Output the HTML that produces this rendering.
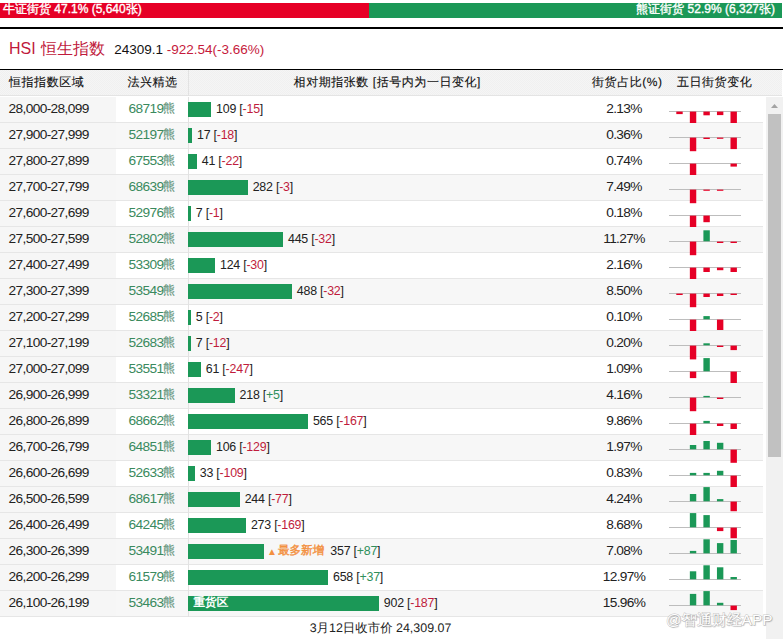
<!DOCTYPE html>
<html lang="zh"><head><meta charset="utf-8"><title>HSI</title>
<style>
html,body{margin:0;padding:0;background:#fff}
body{width:784px;height:639px;position:relative;overflow:hidden;font-family:"Liberation Sans",sans-serif;color:#222}
.abs{position:absolute}
#top{position:absolute;left:0;top:3px;width:782px;height:15px;background:#1b9857;color:#fff;font-size:12px;line-height:13.8px}
#top .bull{position:absolute;left:0;top:0;width:369px;height:15px;background:#e60026}
#top span{-webkit-text-stroke:.35px #fff}
#top .lt{position:absolute;left:3px;top:0;white-space:nowrap}
#top .rt{position:absolute;right:7px;top:0;white-space:nowrap}
#rule{position:absolute;left:0;top:27px;width:783px;height:2px;background:#000}
#title{position:absolute;left:9px;top:38.5px;height:20px;line-height:20px;white-space:nowrap;font-size:13.5px;color:#111}
#title .n{font-size:16px;color:#c01a3c;margin-right:8.8px;word-spacing:1.2px;position:relative;top:.4px}
#title .chg{color:#c61a3c}
#hd{position:absolute;left:0;top:69px;width:782px;height:27px;background:repeating-conic-gradient(#f5f5f5 0 25%,#f0f0f0 0 50%) 0 0/2px 2px;border-top:1px solid #000;box-sizing:border-box;border-bottom:1px solid #e4e4e4;font-size:12px;letter-spacing:.55px;color:#111;text-rendering:geometricPrecision;-webkit-text-stroke:.12px #111}
#hl{position:absolute;left:0;top:69px;width:783px;height:1px;background:#000}
#hd span{position:absolute;top:0;line-height:25px;white-space:nowrap;transform:translateX(-50%)}
#hd .h1{left:9px;transform:none}
.r{position:absolute;left:0;width:763px;height:26px;box-sizing:border-box;border-bottom:1px solid #e6e6e6;font-size:12.5px;line-height:23px}
.r.g{background:#f7f7f7}
.r .c1{position:absolute;left:0;top:0;width:116px;height:25px;background:#f6f6f6}
.r .c1 b{font-weight:normal;position:absolute;left:8.5px;top:-.5px;white-space:nowrap;font-size:13.7px;letter-spacing:-.62px}
.r .c2{position:absolute;left:116px;top:-.5px;width:72px;height:25px;text-align:center;color:#3a8a5e;white-space:nowrap;font-size:13.7px;letter-spacing:-.62px}
.r .c2 i{font-style:normal;color:#64957d;font-size:12px;letter-spacing:0;position:relative;top:-.6px;-webkit-text-stroke:.2px #64957d}
.r .vl{position:absolute;left:188px;top:0;width:1px;height:26px;background:#e2e2e2}
.r .bar{position:absolute;left:188px;top:5px;height:15px;background:#1b9857}
.r .lab{position:absolute;top:.6px;white-space:nowrap;font-size:12.4px;letter-spacing:-.22px}
.r .lab .dn{color:#c01c3c}
.r .lab .up{color:#2f8f5b}
.r .new{color:#f3903f;font-size:11.6px;text-rendering:geometricPrecision;-webkit-text-stroke:.4px #f3903f;margin-right:2.8px;letter-spacing:0;position:relative;top:-.7px}
.r .new u{text-decoration:none;font-size:10px;-webkit-text-stroke:0;position:relative;top:.9px;margin-right:1.1px;margin-left:-2px}
.r .hv{position:absolute;left:193.5px;top:-.4px;color:#fff;font-weight:bold;font-size:11.6px;white-space:nowrap;text-rendering:geometricPrecision}
.r .pc{position:absolute;left:574px;width:100px;top:-.5px;text-align:center;white-space:nowrap;font-size:13.7px;letter-spacing:-.62px}
.r svg{position:absolute;left:669px;top:0;overflow:visible}
#vl{position:absolute;left:188px;top:70px;width:1px;height:26px;background:#e2e2e2}
#foot{position:absolute;left:0;top:618.2px;width:761px;height:21px;line-height:21px;text-align:center;font-size:12.45px;text-rendering:geometricPrecision;color:#222;white-space:nowrap}
#sb{position:absolute;left:766px;top:97px;width:17px;height:542px;background:#f1f1f1}
#sb .th{position:absolute;left:2px;top:17px;width:13px;height:343px;background:#c1c1c1}
#wm{position:absolute;left:666px;top:609.5px;font-size:15.4px;line-height:20px;color:#fff;-webkit-text-stroke:1px rgba(120,120,120,.42);paint-order:stroke fill;text-shadow:1px 1px 1px rgba(0,0,0,.2);white-space:nowrap}
</style></head><body>
<div id="top"><div class="bull"></div><span class="lt">牛证街货 47.1% (5,640张)</span><span class="rt">熊证街货 52.9% (6,327张)</span></div>
<div id="rule"></div>
<div id="title"><span class="n">HSI 恒生指数</span>24309.1 <span class="chg">-922.54(-3.66%)</span></div>
<div id="hl"></div>
<div id="hd"><span class="h1">恒指指数区域</span><span style="left:152.5px">法兴精选</span><span style="left:387.3px">相对期指张数 [括号内为一日变化]</span><span style="left:627.3px">街货占比(%)</span><span style="left:714.6px">五日街货变化</span></div>
<div class="r" style="top:97px"><div class="c1"><b>28,000-28,099</b></div><div class="c2">68719<i>熊</i></div><i class="vl"></i><div class="bar" style="width:23.0px"></div><span class="lab" style="left:216.1px">109 [<span class="dn">-15</span>]</span><span class="pc">2.13%</span><svg width="72" height="29" viewBox="0 0 72 29"><rect x="0" y="14" width="72" height="1" fill="#bdbdbd"/><rect x="7.30" y="14.6" width="6.4" height="2.50" fill="#e60026"/><rect x="20.85" y="14.6" width="6.4" height="13.60" fill="#e60026"/><rect x="34.40" y="14.6" width="6.4" height="3.70" fill="#e60026"/><rect x="47.95" y="14.6" width="6.4" height="3.50" fill="#e60026"/><rect x="61.50" y="14.6" width="6.4" height="13.60" fill="#e60026"/></svg></div>
<div class="r g" style="top:123px"><div class="c1"><b>27,900-27,999</b></div><div class="c2">52197<i>熊</i></div><i class="vl"></i><div class="bar" style="width:3.9px"></div><span class="lab" style="left:197.0px">17 [<span class="dn">-18</span>]</span><span class="pc">0.36%</span><svg width="72" height="29" viewBox="0 0 72 29"><rect x="0" y="14" width="72" height="1" fill="#bdbdbd"/><rect x="20.85" y="14.6" width="6.4" height="13.60" fill="#e60026"/><rect x="34.40" y="14.6" width="6.4" height="1.40" fill="#e60026"/><rect x="47.95" y="14.6" width="6.4" height="1.20" fill="#e60026"/><rect x="61.50" y="14.6" width="6.4" height="11.50" fill="#e60026"/></svg></div>
<div class="r" style="top:149px"><div class="c1"><b>27,800-27,899</b></div><div class="c2">67553<i>熊</i></div><i class="vl"></i><div class="bar" style="width:8.7px"></div><span class="lab" style="left:201.8px">41 [<span class="dn">-22</span>]</span><span class="pc">0.74%</span><svg width="72" height="29" viewBox="0 0 72 29"><rect x="0" y="14" width="72" height="1" fill="#bdbdbd"/><rect x="20.85" y="14.6" width="6.4" height="13.60" fill="#e60026"/><rect x="61.50" y="14.6" width="6.4" height="3.00" fill="#e60026"/></svg></div>
<div class="r g" style="top:175px"><div class="c1"><b>27,700-27,799</b></div><div class="c2">68639<i>熊</i></div><i class="vl"></i><div class="bar" style="width:59.6px"></div><span class="lab" style="left:252.7px">282 [<span class="dn">-3</span>]</span><span class="pc">7.49%</span><svg width="72" height="29" viewBox="0 0 72 29"><rect x="0" y="14" width="72" height="1" fill="#bdbdbd"/><rect x="20.85" y="14.6" width="6.4" height="13.60" fill="#e60026"/><rect x="34.40" y="14.6" width="6.4" height="1.20" fill="#e60026"/><rect x="47.95" y="14.6" width="6.4" height="1.20" fill="#e60026"/></svg></div>
<div class="r" style="top:201px"><div class="c1"><b>27,600-27,699</b></div><div class="c2">52976<i>熊</i></div><i class="vl"></i><div class="bar" style="width:2.7px"></div><span class="lab" style="left:195.8px">7 [<span class="dn">-1</span>]</span><span class="pc">0.18%</span><svg width="72" height="29" viewBox="0 0 72 29"><rect x="0" y="14" width="72" height="1" fill="#bdbdbd"/><rect x="20.85" y="14.6" width="6.4" height="13.60" fill="#e60026"/><rect x="34.40" y="14.6" width="6.4" height="6.60" fill="#e60026"/></svg></div>
<div class="r g" style="top:227px"><div class="c1"><b>27,500-27,599</b></div><div class="c2">52802<i>熊</i></div><i class="vl"></i><div class="bar" style="width:94.9px"></div><span class="lab" style="left:288.0px">445 [<span class="dn">-32</span>]</span><span class="pc">11.27%</span><svg width="72" height="29" viewBox="0 0 72 29"><rect x="0" y="14" width="72" height="1" fill="#bdbdbd"/><rect x="20.85" y="14.6" width="6.4" height="13.60" fill="#e60026"/><rect x="34.40" y="3.30" width="6.4" height="11.00" fill="#1b9857"/><rect x="47.95" y="14.6" width="6.4" height="1.40" fill="#e60026"/><rect x="61.50" y="14.6" width="6.4" height="1.40" fill="#e60026"/></svg></div>
<div class="r" style="top:253px"><div class="c1"><b>27,400-27,499</b></div><div class="c2">53309<i>熊</i></div><i class="vl"></i><div class="bar" style="width:26.9px"></div><span class="lab" style="left:220.0px">124 [<span class="dn">-30</span>]</span><span class="pc">2.16%</span><svg width="72" height="29" viewBox="0 0 72 29"><rect x="0" y="14" width="72" height="1" fill="#bdbdbd"/><rect x="20.85" y="14.6" width="6.4" height="13.60" fill="#e60026"/><rect x="34.40" y="14.6" width="6.4" height="4.40" fill="#e60026"/><rect x="47.95" y="14.6" width="6.4" height="2.60" fill="#e60026"/><rect x="61.50" y="14.6" width="6.4" height="4.40" fill="#e60026"/></svg></div>
<div class="r g" style="top:279px"><div class="c1"><b>27,300-27,399</b></div><div class="c2">53549<i>熊</i></div><i class="vl"></i><div class="bar" style="width:103.7px"></div><span class="lab" style="left:296.8px">488 [<span class="dn">-32</span>]</span><span class="pc">8.50%</span><svg width="72" height="29" viewBox="0 0 72 29"><rect x="0" y="14" width="72" height="1" fill="#bdbdbd"/><rect x="7.30" y="14.6" width="6.4" height="1.40" fill="#e60026"/><rect x="20.85" y="14.6" width="6.4" height="13.60" fill="#e60026"/><rect x="34.40" y="14.6" width="6.4" height="3.40" fill="#e60026"/><rect x="47.95" y="14.6" width="6.4" height="2.40" fill="#e60026"/><rect x="61.50" y="14.6" width="6.4" height="1.40" fill="#e60026"/></svg></div>
<div class="r" style="top:305px"><div class="c1"><b>27,200-27,299</b></div><div class="c2">52685<i>熊</i></div><i class="vl"></i><div class="bar" style="width:2.7px"></div><span class="lab" style="left:195.8px">5 [<span class="dn">-2</span>]</span><span class="pc">0.10%</span><svg width="72" height="29" viewBox="0 0 72 29"><rect x="0" y="14" width="72" height="1" fill="#bdbdbd"/><rect x="20.85" y="14.6" width="6.4" height="13.60" fill="#e60026"/><rect x="34.40" y="11.10" width="6.4" height="3.20" fill="#1b9857"/><rect x="47.95" y="14.6" width="6.4" height="10.40" fill="#e60026"/></svg></div>
<div class="r g" style="top:331px"><div class="c1"><b>27,100-27,199</b></div><div class="c2">52683<i>熊</i></div><i class="vl"></i><div class="bar" style="width:2.7px"></div><span class="lab" style="left:195.8px">7 [<span class="dn">-12</span>]</span><span class="pc">0.20%</span><svg width="72" height="29" viewBox="0 0 72 29"><rect x="0" y="14" width="72" height="1" fill="#bdbdbd"/><rect x="20.85" y="14.6" width="6.4" height="13.80" fill="#e60026"/><rect x="34.40" y="12.30" width="6.4" height="2.00" fill="#1b9857"/><rect x="47.95" y="14.6" width="6.4" height="1.40" fill="#e60026"/><rect x="61.50" y="14.6" width="6.4" height="4.50" fill="#e60026"/></svg></div>
<div class="r" style="top:357px"><div class="c1"><b>27,000-27,099</b></div><div class="c2">53551<i>熊</i></div><i class="vl"></i><div class="bar" style="width:12.7px"></div><span class="lab" style="left:205.8px">61 [<span class="dn">-247</span>]</span><span class="pc">1.09%</span><svg width="72" height="29" viewBox="0 0 72 29"><rect x="0" y="14" width="72" height="1" fill="#bdbdbd"/><rect x="20.85" y="14.6" width="6.4" height="6.50" fill="#e60026"/><rect x="34.40" y="1.10" width="6.4" height="13.20" fill="#1b9857"/><rect x="61.50" y="14.6" width="6.4" height="13.60" fill="#e60026"/></svg></div>
<div class="r g" style="top:383px"><div class="c1"><b>26,900-26,999</b></div><div class="c2">53321<i>熊</i></div><i class="vl"></i><div class="bar" style="width:46.5px"></div><span class="lab" style="left:239.6px">218 [<span class="up">+5</span>]</span><span class="pc">4.16%</span><svg width="72" height="29" viewBox="0 0 72 29"><rect x="0" y="14" width="72" height="1" fill="#bdbdbd"/><rect x="20.85" y="14.6" width="6.4" height="13.60" fill="#e60026"/><rect x="34.40" y="12.90" width="6.4" height="1.40" fill="#1b9857"/><rect x="47.95" y="14.6" width="6.4" height="1.40" fill="#e60026"/></svg></div>
<div class="r" style="top:409px"><div class="c1"><b>26,800-26,899</b></div><div class="c2">68662<i>熊</i></div><i class="vl"></i><div class="bar" style="width:119.8px"></div><span class="lab" style="left:312.9px">565 [<span class="dn">-167</span>]</span><span class="pc">9.86%</span><svg width="72" height="29" viewBox="0 0 72 29"><rect x="0" y="14" width="72" height="1" fill="#bdbdbd"/><rect x="20.85" y="14.6" width="6.4" height="13.60" fill="#e60026"/><rect x="34.40" y="11.90" width="6.4" height="2.40" fill="#1b9857"/><rect x="47.95" y="14.6" width="6.4" height="2.40" fill="#e60026"/><rect x="61.50" y="14.6" width="6.4" height="5.40" fill="#e60026"/></svg></div>
<div class="r g" style="top:435px"><div class="c1"><b>26,700-26,799</b></div><div class="c2">64851<i>熊</i></div><i class="vl"></i><div class="bar" style="width:22.9px"></div><span class="lab" style="left:216.0px">106 [<span class="dn">-129</span>]</span><span class="pc">1.97%</span><svg width="72" height="29" viewBox="0 0 72 29"><rect x="0" y="14" width="72" height="1" fill="#bdbdbd"/><rect x="20.85" y="10.00" width="6.4" height="4.30" fill="#1b9857"/><rect x="34.40" y="6.00" width="6.4" height="8.30" fill="#1b9857"/><rect x="47.95" y="7.80" width="6.4" height="6.50" fill="#1b9857"/><rect x="61.50" y="14.6" width="6.4" height="13.20" fill="#e60026"/></svg></div>
<div class="r" style="top:461px"><div class="c1"><b>26,600-26,699</b></div><div class="c2">52633<i>熊</i></div><i class="vl"></i><div class="bar" style="width:6.7px"></div><span class="lab" style="left:199.8px">33 [<span class="dn">-109</span>]</span><span class="pc">0.83%</span><svg width="72" height="29" viewBox="0 0 72 29"><rect x="0" y="14" width="72" height="1" fill="#bdbdbd"/><rect x="20.85" y="11.90" width="6.4" height="2.40" fill="#1b9857"/><rect x="34.40" y="11.90" width="6.4" height="2.40" fill="#1b9857"/><rect x="47.95" y="9.80" width="6.4" height="4.50" fill="#1b9857"/><rect x="61.50" y="14.6" width="6.4" height="13.60" fill="#e60026"/></svg></div>
<div class="r g" style="top:487px"><div class="c1"><b>26,500-26,599</b></div><div class="c2">68617<i>熊</i></div><i class="vl"></i><div class="bar" style="width:51.6px"></div><span class="lab" style="left:244.7px">244 [<span class="dn">-77</span>]</span><span class="pc">4.24%</span><svg width="72" height="29" viewBox="0 0 72 29"><rect x="0" y="14" width="72" height="1" fill="#bdbdbd"/><rect x="20.85" y="7.00" width="6.4" height="7.30" fill="#1b9857"/><rect x="34.40" y="0.10" width="6.4" height="14.20" fill="#1b9857"/><rect x="47.95" y="12.10" width="6.4" height="2.20" fill="#1b9857"/><rect x="61.50" y="14.6" width="6.4" height="9.60" fill="#e60026"/></svg></div>
<div class="r" style="top:513px"><div class="c1"><b>26,400-26,499</b></div><div class="c2">64245<i>熊</i></div><i class="vl"></i><div class="bar" style="width:57.8px"></div><span class="lab" style="left:250.9px">273 [<span class="dn">-169</span>]</span><span class="pc">8.68%</span><svg width="72" height="29" viewBox="0 0 72 29"><rect x="0" y="14" width="72" height="1" fill="#bdbdbd"/><rect x="20.85" y="0.10" width="6.4" height="14.20" fill="#1b9857"/><rect x="34.40" y="2.10" width="6.4" height="12.20" fill="#1b9857"/><rect x="47.95" y="14.6" width="6.4" height="3.50" fill="#e60026"/><rect x="61.50" y="14.6" width="6.4" height="10.60" fill="#e60026"/></svg></div>
<div class="r g" style="top:539px"><div class="c1"><b>26,300-26,399</b></div><div class="c2">53491<i>熊</i></div><i class="vl"></i><div class="bar" style="width:75.8px"></div><span class="lab" style="left:268.9px"><span class="new"><u>▲</u>最多新增</span> 357 [<span class="up">+87</span>]</span><span class="pc">7.08%</span><svg width="72" height="29" viewBox="0 0 72 29"><rect x="0" y="14" width="72" height="1" fill="#bdbdbd"/><rect x="20.85" y="11.90" width="6.4" height="2.40" fill="#1b9857"/><rect x="34.40" y="0.30" width="6.4" height="14.00" fill="#1b9857"/><rect x="47.95" y="4.10" width="6.4" height="10.20" fill="#1b9857"/><rect x="61.50" y="1.00" width="6.4" height="13.30" fill="#1b9857"/></svg></div>
<div class="r" style="top:565px"><div class="c1"><b>26,200-26,299</b></div><div class="c2">61579<i>熊</i></div><i class="vl"></i><div class="bar" style="width:139.9px"></div><span class="lab" style="left:333.0px">658 [<span class="up">+37</span>]</span><span class="pc">12.97%</span><svg width="72" height="29" viewBox="0 0 72 29"><rect x="0" y="14" width="72" height="1" fill="#bdbdbd"/><rect x="20.85" y="6.30" width="6.4" height="8.00" fill="#1b9857"/><rect x="34.40" y="0.30" width="6.4" height="14.00" fill="#1b9857"/><rect x="47.95" y="2.30" width="6.4" height="12.00" fill="#1b9857"/><rect x="61.50" y="12.00" width="6.4" height="2.30" fill="#1b9857"/></svg></div>
<div class="r g" style="top:591px"><div class="c1"><b>26,100-26,199</b></div><div class="c2">53463<i>熊</i></div><i class="vl"></i><div class="bar" style="width:190.7px"></div><span class="hv">重货区</span><span class="lab" style="left:383.8px">902 [<span class="dn">-187</span>]</span><span class="pc">15.96%</span><svg width="72" height="29" viewBox="0 0 72 29"><rect x="0" y="14" width="72" height="1" fill="#bdbdbd"/><rect x="20.85" y="2.90" width="6.4" height="11.40" fill="#1b9857"/><rect x="34.40" y="0.10" width="6.4" height="14.20" fill="#1b9857"/><rect x="47.95" y="11.80" width="6.4" height="2.50" fill="#1b9857"/><rect x="61.50" y="14.6" width="6.4" height="4.50" fill="#e60026"/></svg></div>
<div id="vl"></div>
<div id="foot">3月12日收市价 24,309.07</div>
<div id="sb"><svg class="abs" style="left:5px;top:6.5px" width="7" height="4" viewBox="0 0 7 4"><path d="M0 4L3.5 0L7 4Z" fill="#a3a3a3"/></svg><div class="th"></div></div>
<div id="wm">@智通财经APP</div>
</body></html>
